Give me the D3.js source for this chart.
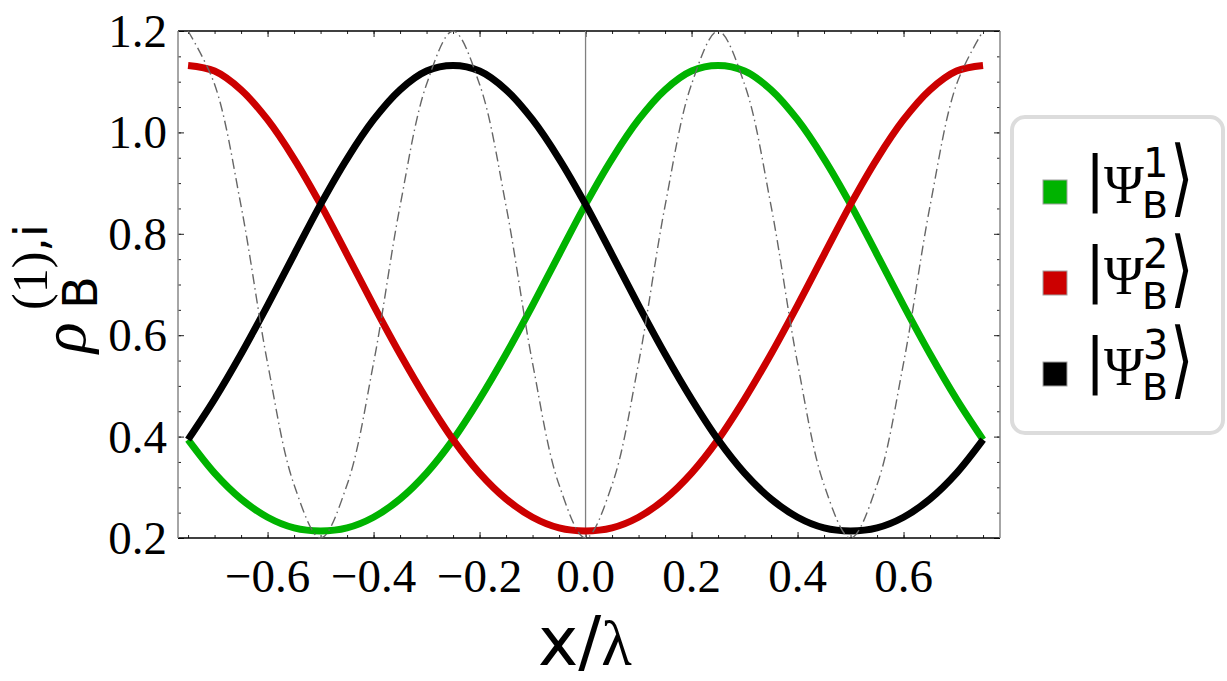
<!DOCTYPE html>
<html>
<head>
<meta charset="utf-8">
<script src="https://cdn.jsdelivr.net/npm/d3@7"></script>
<style>
  body { margin: 0; background: #fff; }
  svg { display: block; }
</style>
</head>
<body>
<div id="chart"></div>
<script>
const xValues = [-0.75, -0.70, -0.65, -0.60, -0.55, -0.50, -0.45, -0.40, -0.35, -0.30, -0.25,
  -0.20, -0.15, -0.10, -0.05, 0.00, 0.05, 0.10, 0.15, 0.20, 0.25,
  0.30, 0.35, 0.40, 0.45, 0.50, 0.55, 0.60, 0.65, 0.70, 0.75];

const psi1 = [0.394, 0.328, 0.277, 0.241, 0.220, 0.214, 0.220, 0.241, 0.277, 0.328, 0.394,
  0.474, 0.563, 0.659, 0.759, 0.858, 0.948, 1.025, 1.084, 1.121, 1.132,
  1.121, 1.084, 1.025, 0.948, 0.858, 0.759, 0.659, 0.563, 0.474, 0.394];

const psi2 = [1.132, 1.121, 1.084, 1.025, 0.948, 0.858, 0.759, 0.659, 0.563, 0.474, 0.394,
  0.328, 0.277, 0.241, 0.220, 0.214, 0.220, 0.241, 0.277, 0.328, 0.394,
  0.474, 0.563, 0.659, 0.759, 0.858, 0.948, 1.025, 1.084, 1.121, 1.132];

const psi3 = [0.394, 0.474, 0.563, 0.659, 0.759, 0.858, 0.948, 1.025, 1.084, 1.121, 1.132,
  1.121, 1.084, 1.025, 0.948, 0.858, 0.759, 0.659, 0.563, 0.474, 0.394,
  0.328, 0.277, 0.241, 0.220, 0.214, 0.220, 0.241, 0.277, 0.328, 0.394];

// thin dash-dot lattice curve
const lattice = [1.20, 1.095, 0.855, 0.545, 0.305, 0.20, 0.305, 0.545, 0.855, 1.095, 1.20,
  1.095, 0.855, 0.545, 0.305, 0.20, 0.305, 0.545, 0.855, 1.095, 1.20,
  1.095, 0.855, 0.545, 0.305, 0.20, 0.305, 0.545, 0.855, 1.095, 1.20];

const xTicks = [-0.6, -0.4, -0.2, 0.0, 0.2, 0.4, 0.6];
const yTicks = [0.2, 0.4, 0.6, 0.8, 1.0, 1.2];
const legendIndex = ["1", "2", "3"];
const seriesColors = ["#00b300", "#cc0000", "#000000"];

const W = 1227, H = 681;
const frame = { left: 178, right: 1000, top: 31, bottom: 538 };

const svg = d3.select("#chart").append("svg")
  .attr("width", W)
  .attr("height", H)
  .style("background", "#fff");

const x = d3.scaleLinear().domain([-0.769, 0.782]).range([frame.left, frame.right]);
const y = d3.scaleLinear().domain([0.2, 1.2]).range([frame.bottom, frame.top]);

const minorX = d3.range(-15, 16).map(i => i * 0.05);
const minorY = d3.range(4, 25).map(i => i * 0.05);

const serif = "'Liberation Serif', 'Times New Roman', serif";
const sans = "'DejaVu Sans', sans-serif";

// ticks on all four sides, pointing inward
function tickAxis(axis, pos, vals, size) {
  const g = svg.append("g")
    .attr("transform", pos)
    .call(axis.tickValues(vals).tickSize(-size).tickFormat(""));
  g.select(".domain").remove();
  g.selectAll("line").attr("stroke", "#222").attr("stroke-width", 1);
  return g;
}
tickAxis(d3.axisBottom(x), `translate(0,${frame.bottom})`, minorX, 3);
tickAxis(d3.axisBottom(x), `translate(0,${frame.bottom})`, xTicks, 6);
tickAxis(d3.axisTop(x), `translate(0,${frame.top})`, minorX, 3);
tickAxis(d3.axisTop(x), `translate(0,${frame.top})`, xTicks, 6);
tickAxis(d3.axisLeft(y), `translate(${frame.left},0)`, minorY, 3);
tickAxis(d3.axisLeft(y), `translate(${frame.left},0)`, yTicks, 6);
tickAxis(d3.axisRight(y), `translate(${frame.right},0)`, minorY, 3);
tickAxis(d3.axisRight(y), `translate(${frame.right},0)`, yTicks, 6);

// tick labels
const fmt = d3.format(".1f");
svg.append("g").selectAll("text")
  .data(xTicks)
  .join("text")
  .attr("x", d => x(d))
  .attr("y", 592)
  .attr("text-anchor", "middle")
  .style("font-family", serif)
  .style("font-size", "47px")
  .text(d => fmt(d));

svg.append("g").selectAll("text")
  .data(yTicks)
  .join("text")
  .attr("x", frame.left - 11)
  .attr("y", d => y(d) + 16)
  .attr("text-anchor", "end")
  .style("font-family", serif)
  .style("font-size", "47px")
  .text(d => fmt(d));

// frame
svg.append("line").attr("x1", frame.left).attr("x2", frame.right)
  .attr("y1", frame.top).attr("y2", frame.top).attr("stroke", "#000").attr("stroke-width", 1.3);
svg.append("line").attr("x1", frame.left).attr("x2", frame.right)
  .attr("y1", frame.bottom).attr("y2", frame.bottom).attr("stroke", "#000").attr("stroke-width", 1.3);
svg.append("line").attr("x1", frame.left).attr("x2", frame.left)
  .attr("y1", frame.top).attr("y2", frame.bottom).attr("stroke", "#888").attr("stroke-width", 1.5);
svg.append("line").attr("x1", frame.right).attr("x2", frame.right)
  .attr("y1", frame.top).attr("y2", frame.bottom).attr("stroke", "#888").attr("stroke-width", 1.5);

// x = 0 reference line
svg.append("line")
  .attr("x1", x(0)).attr("x2", x(0))
  .attr("y1", frame.top).attr("y2", frame.bottom)
  .attr("stroke", "#808080").attr("stroke-width", 1.3);

const line = d3.line()
  .x(d => x(d[0]))
  .y(d => y(d[1]))
  .curve(d3.curveCatmullRom.alpha(0.5));

[psi1, psi2, psi3].forEach((vals, i) => {
  svg.append("path")
    .datum(xValues.map((xv, k) => [xv, vals[k]]))
    .attr("d", line)
    .attr("fill", "none")
    .attr("stroke", seriesColors[i])
    .attr("stroke-width", 7)
    .attr("stroke-linecap", "butt")
    .attr("stroke-linejoin", "round");
});

svg.append("path")
  .datum(xValues.map((xv, k) => [xv, lattice[k]]))
  .attr("d", line)
  .attr("fill", "none")
  .attr("stroke", "#666")
  .attr("stroke-width", 1.4)
  .attr("stroke-dasharray", "10,4,1.5,4");

// axis titles
const xl = svg.append("text")
  .attr("x", 538)
  .attr("y", 665);
xl.append("tspan").style("font-family", sans).style("font-size", "68px").text("x");
xl.append("tspan").style("font-family", sans).style("font-size", "68px").text("/");
xl.append("tspan").style("font-family", serif).style("font-size", "63px").text("λ");

const yl = svg.append("g").attr("transform", "rotate(-90)");
yl.append("text")
  .attr("x", -353).attr("y", 85)
  .style("font-family", serif).style("font-style", "italic").style("font-size", "64px")
  .text("ρ");
yl.append("text")
  .attr("x", -309).attr("y", 97)
  .style("font-family", sans).style("font-size", "48px")
  .text("B");
const sup = yl.append("text")
  .attr("x", -310).attr("y", 47);
sup.append("tspan").style("font-family", serif).style("font-size", "50px").text("(1)");
sup.append("tspan").style("font-family", sans).style("font-size", "46px").text(",i");

// legend
const lg = svg.append("g").attr("transform", "translate(1012,117)");
lg.append("rect")
  .attr("width", 211).attr("height", 316)
  .attr("rx", 13)
  .attr("fill", "#fff")
  .attr("stroke", "#dcdcdc")
  .attr("stroke-width", 4);

legendIndex.forEach((lab, i) => {
  const cy = 75 + i * 91;
  const e = lg.append("g").attr("transform", `translate(0,${cy})`);
  e.append("rect")
    .attr("x", 31).attr("y", -12)
    .attr("width", 24).attr("height", 24)
    .attr("fill", seriesColors[i])
    .attr("stroke", "#a0a0a0")
    .attr("stroke-width", 1);
  const t = e.append("text");
  t.append("tspan").attr("x", 73).attr("y", 7)
    .style("font-family", sans).style("font-size", "60px").text("|");
  t.append("tspan").attr("x", 92).attr("y", 11)
    .style("font-family", serif).style("font-size", "54px").text("Ψ");
  t.append("tspan").attr("x", 131).attr("y", -15)
    .style("font-family", sans).style("font-size", "40px").text(lab);
  t.append("tspan").attr("x", 130).attr("y", 26)
    .style("font-family", sans).style("font-size", "38px").text("B");
  // closing ket bracket: tall and thin
  e.append("text")
    .attr("transform", "translate(158,14) scale(0.72,1)")
    .style("font-family", sans)
    .style("font-weight", 200)
    .style("font-size", "84px")
    .text("⟩");
});
</script>
</body>
</html>
